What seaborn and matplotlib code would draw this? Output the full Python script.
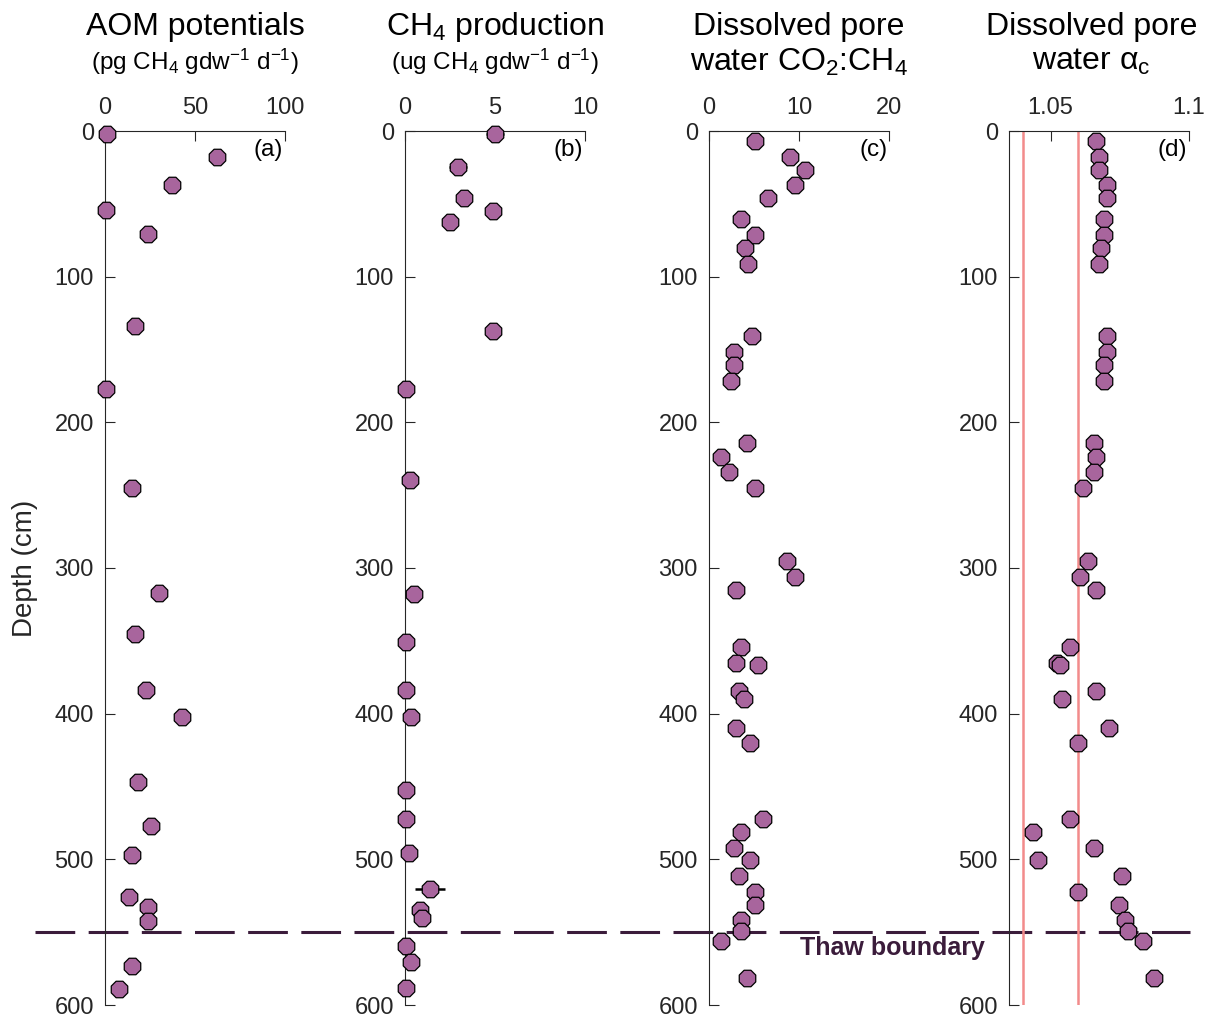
import numpy as np
import pandas as pd
import seaborn as sns
import matplotlib
matplotlib.use("Agg")
import matplotlib.pyplot as plt
from matplotlib.transforms import blended_transform_factory

# ---------------- data ----------------
aom_depth = [2, 18, 37, 54, 71, 134, 177, 245, 317, 345, 384, 402, 447, 477, 497, 526, 533, 542, 573, 589]
aom_value = [1, 62, 37, 0.5, 24, 16.7, 0.5, 15.2, 29.8, 16.7, 22.6, 42.8, 18.1, 25.5, 15.2, 13.5, 24, 24, 15.2, 7.9]

ch4_depth = [2, 25, 46, 55, 62.5, 137.5, 177, 239.5, 318, 350.5, 384, 402, 452.5, 472, 495.5,
             520.5, 534.5, 540, 559.5, 570.5, 588.5]
ch4_value = [5.0, 2.95, 3.25, 4.9, 2.5, 4.9, 0.08, 0.26, 0.5, 0.06, 0.06, 0.36, 0.06, 0.06, 0.21,
             1.39, 0.82, 0.95, 0.06, 0.36, 0.06]
ch4_err = [0.5, 0.5, 0, 0, 0, 0, 0, 0, 0, 0, 0, 0, 0, 0, 0, 0.85, 0, 0, 0, 0, 0]

pore_depth = [7, 17.6, 26.5, 37.3, 46.2, 60.6, 71.4, 80, 91, 141, 152, 160.8, 171.6, 214, 223.5, 234,
              244.8, 295, 306, 315, 354.4, 365, 366.7, 384.4, 389.8, 409.5, 420.3, 472.2, 481.4, 491.9,
              500.8, 511.3, 522.3, 531.2, 541.7, 549, 556, 581.3]
co2_ch4 = [5.1, 8.96, 10.7, 9.6, 6.6, 3.5, 5.1, 3.95, 4.3, 4.8, 2.75, 2.75, 2.45, 4.26, 1.28, 2.2,
           5.1, 8.66, 9.57, 3.05, 3.6, 3.05, 5.46, 3.35, 3.9, 3.05, 4.5, 6.0, 3.6, 2.75,
           4.5, 3.35, 5.1, 5.1, 3.6, 3.6, 1.28, 4.26]
alpha_c = [1.0665, 1.0674, 1.0674, 1.0704, 1.0704, 1.0693, 1.0693, 1.0683, 1.0674, 1.0704, 1.0704,
           1.0693, 1.0693, 1.0656, 1.0665, 1.0656, 1.0617, 1.0637, 1.0608, 1.0664, 1.0572, 1.0524,
           1.0533, 1.0663, 1.0543, 1.0711, 1.0599, 1.0572, 1.0435, 1.0656, 1.0454, 1.0759, 1.0599,
           1.0749, 1.0768, 1.0778, 1.0833, 1.0872]
alpha_ref_lines = [1.04, 1.06]

thaw_depth = 550
depth_ticks = [0, 100, 200, 300, 400, 500, 600]

panel_titles = ["AOM potentials", "CH$_4$ production", "Dissolved pore", "Dissolved pore"]
panel_subtitles = [r"(pg CH$_4$ gdw$^{\mathregular{-1}}$ d$^{\mathregular{-1}}$)",
                   r"(ug CH$_4$ gdw$^{\mathregular{-1}}$ d$^{\mathregular{-1}}$)",
                   "water CO$_2$:CH$_4$",
                   "water α$_\\mathregular{c}$"]
panel_letters = ["(a)", "(b)", "(c)", "(d)"]
x_limits = [(0, 100), (0, 10), (0, 20), (1.035, 1.1)]
x_ticks = [[0, 50, 100], [0, 5, 10], [0, 10, 20], [1.05, 1.1]]
x_ticklabels = [["0", "50", "100"], ["0", "5", "10"], ["0", "10", "20"], ["1.05", "1.1"]]

# ---------------- style ----------------
sns.set_theme(style="ticks")
plt.rcParams["font.family"] = ["Liberation Sans", "DejaVu Sans"]
plt.rcParams["mathtext.fontset"] = "custom"
plt.rcParams["mathtext.rm"] = "Liberation Sans"
plt.rcParams["mathtext.it"] = "Liberation Sans:italic"
plt.rcParams["mathtext.bf"] = "Liberation Sans:bold"
plt.rcParams["mathtext.default"] = "regular"

axis_col = "#262626"
marker_col = "#a8659d"
thaw_col = "#3b1c3b"
ref_col = "#f28b8b"

W, H = 1207, 1018
fig = plt.figure(figsize=(W / 100, H / 100), dpi=100)

ax_left_px = [105, 405, 709, 1009]
ax_w_px = 180
ax_top_px, ax_bot_px = 131, 1005
axes = []
for lp in ax_left_px:
    ax = fig.add_axes([lp / W, 1 - ax_bot_px / H, ax_w_px / W, (ax_bot_px - ax_top_px) / H])
    ax.patch.set_visible(False)
    axes.append(ax)

frames = [
    pd.DataFrame({"value": aom_value, "depth": aom_depth}),
    pd.DataFrame({"value": ch4_value, "depth": ch4_depth}),
    pd.DataFrame({"value": co2_ch4, "depth": pore_depth}),
    pd.DataFrame({"value": alpha_c, "depth": pore_depth}),
]

for i, ax in enumerate(axes):
    ax.set_xlim(*x_limits[i])
    ax.set_ylim(600, 0)
    if i == 3:
        for xv in alpha_ref_lines:
            ax.axvline(xv, color=ref_col, lw=1.8, zorder=1)
    if i == 1:
        errs = np.array(ch4_err)
        m = errs > 0
        ax.errorbar(np.array(ch4_value)[m], np.array(ch4_depth)[m], xerr=errs[m], fmt="none",
                    ecolor="black", elinewidth=1.8, capsize=0, zorder=2)
    sns.scatterplot(data=frames[i], x="value", y="depth", ax=ax, marker="8", s=165,
                    color=marker_col, edgecolor="black", linewidth=0.9, zorder=3,
                    clip_on=False, legend=False)
    ax.set_xlabel("")
    ax.set_ylabel("")
    ax.xaxis.tick_top()
    ax.set_xticks(x_ticks[i])
    ax.set_xticklabels(x_ticklabels[i])
    ax.set_yticks(depth_ticks)
    ax.set_yticklabels([str(t) for t in depth_ticks])
    ax.tick_params(axis="x", direction="in", length=7, width=0.8, colors=axis_col,
                   labelsize=17, pad=9, top=True, bottom=False)
    ax.tick_params(axis="y", direction="in", length=7, width=0.8, colors=axis_col,
                   labelsize=17, pad=8, left=True, right=False)
    for side in ["right", "bottom"]:
        ax.spines[side].set_visible(False)
    for side in ["left", "top"]:
        ax.spines[side].set_color(axis_col)
        ax.spines[side].set_linewidth(0.8)
    tx = 0.46 if i == 3 else 0.5
    ax.text(tx, 1.119, panel_titles[i], transform=ax.transAxes, ha="center", va="center",
            fontsize=23, color="black")
    ax.text(tx, 1.079, panel_subtitles[i], transform=ax.transAxes, ha="center", va="center",
            fontsize=23 if i >= 2 else 17.5, color="black")
    ax.text(0.99, 0.978, panel_letters[i], transform=ax.transAxes, ha="right", va="center",
            fontsize=17.5, color="black")

# thaw boundary dashed line across all panels
ax0 = axes[0]
ax0.axhline(thaw_depth, xmin=(35 - 105) / ax_w_px, xmax=(1190 - 105) / ax_w_px, color=thaw_col,
            lw=2.2, dashes=(13, 4.4), clip_on=False, zorder=1)
trans_c = blended_transform_factory(axes[2].transAxes, axes[2].transData)
axes[2].text((985 - 709) / ax_w_px, thaw_depth + 11, "Thaw boundary", transform=trans_c,
             ha="right", va="center", fontsize=18, fontweight="bold", color=thaw_col, clip_on=False)

fig.text(25 / W, 1 - 568 / H, "Depth (cm)", rotation=90, ha="center", va="center",
         fontsize=20, color=axis_col)

fig.savefig("out.png", dpi=100)
